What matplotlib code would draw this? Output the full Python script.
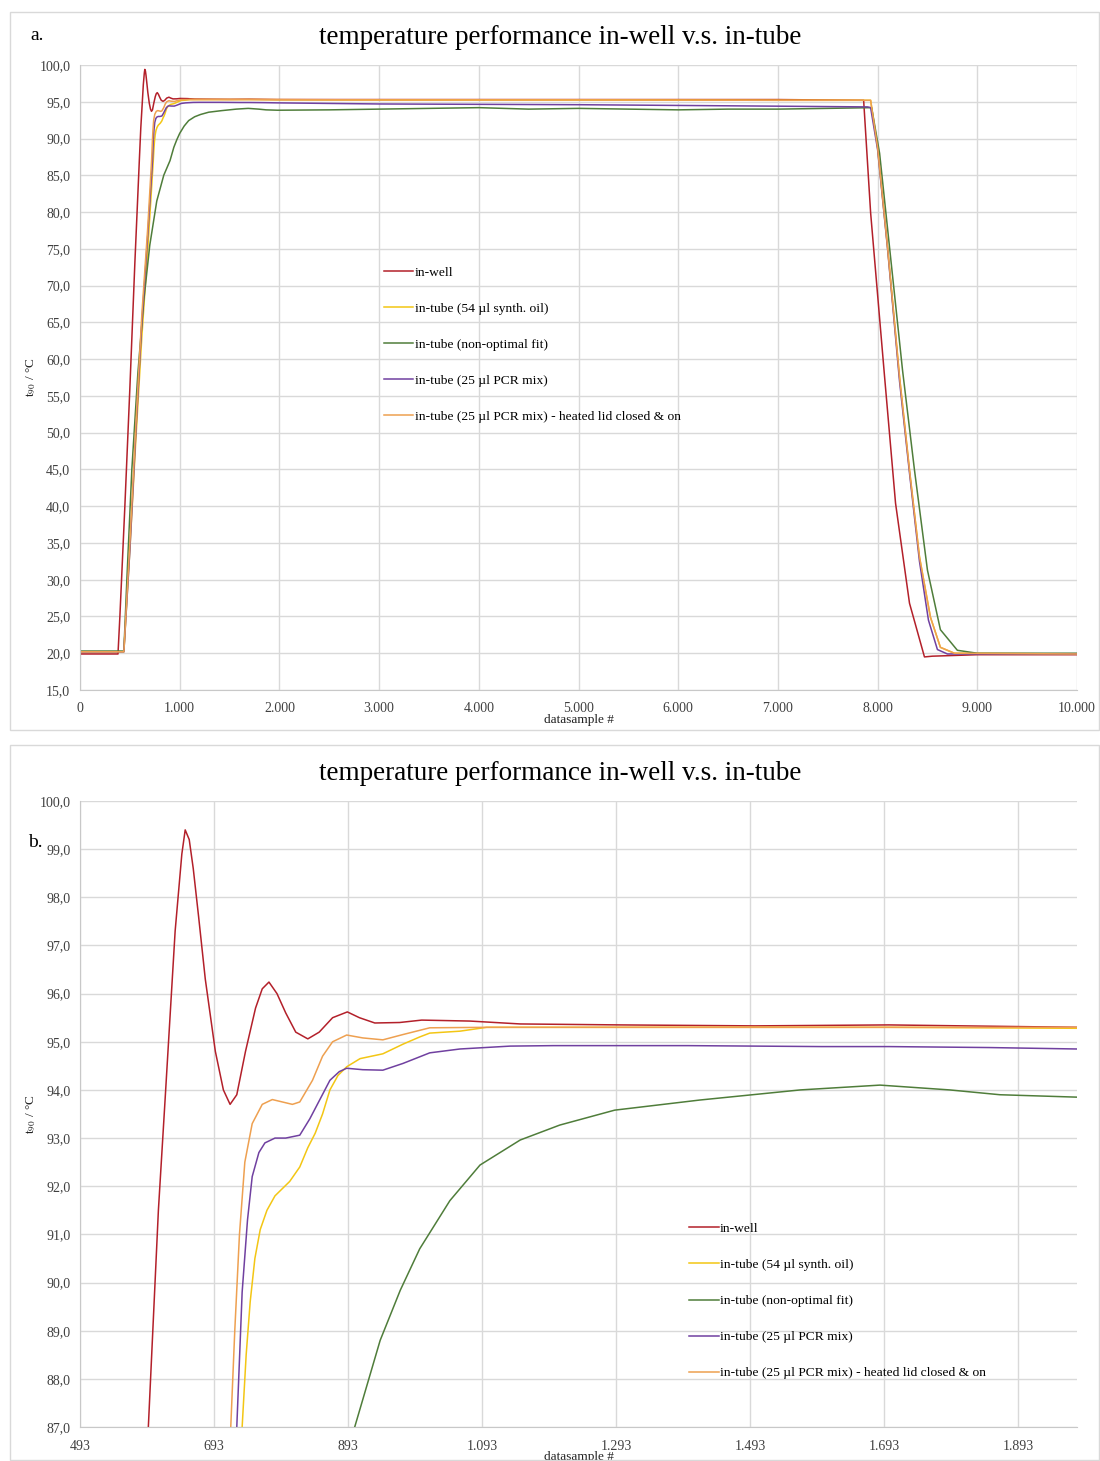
"""Temperature performance in-well vs in-tube, two panels (overview + zoom)."""

import numpy as np
import matplotlib
import matplotlib.pyplot as plt
from matplotlib.patches import Rectangle
from matplotlib.ticker import FuncFormatter, FixedLocator

matplotlib.use("Agg")

plt.rcParams["font.family"] = ["Liberation Serif", "DejaVu Serif"]
plt.rcParams["mathtext.fontset"] = "stix"

# ---- data (sample #, temperature in degC) ----
well_x = [0, 381, 400, 450, 500, 550, 595, 610, 620, 635, 645, 650, 656, 662,
          670, 680, 695, 707, 717, 727, 740, 755, 765, 775, 787, 800, 815,
          833, 850, 870, 892, 910, 933, 970, 1003, 1075, 1150, 1300, 1500,
          1700, 1981, 3000, 5000, 7000, 7860, 7930, 8070, 8180, 8320, 8470,
          8550, 9000, 10000]
well_y = [19.9, 19.9, 25.0, 40.0, 56.0, 73.0, 87.0, 91.5, 93.8, 97.3, 98.9,
          99.4, 99.2, 98.6, 97.6, 96.3, 94.8, 94.0, 93.7, 93.9, 94.8, 95.7,
          96.1, 96.24, 96.0, 95.6, 95.2, 95.06, 95.2, 95.5, 95.62, 95.5, 95.39,
          95.4, 95.45, 95.43, 95.37, 95.35, 95.33, 95.35, 95.3, 95.3, 95.3,
          95.3, 95.2, 79.9, 57.6, 40.4, 26.8, 19.5, 19.6, 19.8, 19.8]

oil_x = [0, 440, 500, 560, 620, 680, 735, 741, 747, 754, 762, 772, 784, 806,
         821, 833, 844, 855, 866, 878, 891, 911, 945, 975, 1000, 1015, 1060,
         1100, 1300, 1500, 1700, 1981, 3000, 5000, 7000, 7930, 8000, 8100,
         8220, 8320, 8420, 8530, 8630, 8770, 10000]
oil_y = [20.2, 20.2, 34.0, 49.0, 63.0, 75.0, 87.0, 88.5, 89.6, 90.5, 91.1,
         91.5, 91.8, 92.1, 92.4, 92.8, 93.1, 93.5, 94.0, 94.3, 94.48, 94.65,
         94.75, 94.95, 95.1, 95.18, 95.22, 95.3, 95.3, 95.3, 95.3, 95.28,
         95.25, 95.25, 95.2, 95.2, 88.8, 75.2, 57.6, 44.9, 33.1, 24.9, 20.8,
         20.0, 19.9]

fit_x = [0, 440, 470, 520, 580, 640, 700, 770, 840, 903, 941, 971, 1000, 1045,
         1090, 1150, 1209, 1291, 1418, 1568, 1687, 1791, 1866, 1981, 2500,
         3000, 3500, 4000, 4500, 5000, 5500, 6000, 6500, 7000, 7500, 7940,
         8020, 8250, 8370, 8500, 8630, 8800, 9000, 10000]
fit_y = [20.3, 20.3, 30.0, 45.0, 58.0, 68.0, 75.5, 81.5, 85.0, 87.0, 88.8,
         89.84, 90.7, 91.7, 92.44, 92.96, 93.27, 93.58, 93.79, 94.0, 94.1,
         94.0, 93.9, 93.85, 93.9, 94.0, 94.1, 94.2, 94.0, 94.1, 94.0, 93.9,
         94.0, 94.0, 94.1, 94.2, 88.0, 58.5, 44.9, 31.3, 23.2, 20.4, 20.0,
         20.0]

pcr_x = [0, 440, 500, 560, 620, 680, 727, 735, 743, 750, 760, 769, 784, 800,
         821, 836, 851, 866, 880, 891, 915, 945, 975, 1015, 1060, 1135, 1200,
         1400, 1600, 1700, 1850, 1981, 3000, 5000, 7000, 7900, 7930, 8000,
         8100, 8220, 8320, 8420, 8510, 8600, 8700, 10000]
pcr_y = [20.2, 20.2, 34.0, 50.0, 65.0, 77.0, 87.0, 89.8, 91.3, 92.2, 92.7,
         92.9, 93.0, 93.0, 93.06, 93.4, 93.8, 94.2, 94.38, 94.45, 94.42,
         94.41, 94.55, 94.77, 94.85, 94.91, 94.92, 94.92, 94.9, 94.9, 94.88,
         94.85, 94.7, 94.6, 94.4, 94.3, 94.2, 88.5, 75.0, 57.0, 44.5, 32.5,
         24.5, 20.5, 19.9, 19.9]

lid_x = [0, 440, 500, 560, 620, 680, 718, 724, 731, 739, 750, 765, 780, 795,
         810, 821, 840, 855, 870, 891, 915, 945, 975, 1015, 1100, 1300, 1500,
         1700, 1981, 3000, 5000, 7000, 7930, 8000, 8100, 8220, 8320, 8420,
         8530, 8630, 8770, 10000]
lid_y = [20.2, 20.2, 35.0, 51.0, 66.0, 78.0, 87.0, 89.0, 91.0, 92.5, 93.3,
         93.7, 93.8, 93.75, 93.7, 93.75, 94.2, 94.7, 95.0, 95.14, 95.08,
         95.04, 95.15, 95.29, 95.3, 95.3, 95.3, 95.3, 95.3, 95.25, 95.25,
         95.2, 95.2, 88.8, 75.2, 57.6, 44.9, 33.1, 24.9, 20.8, 20.0, 19.9]

labels = ["in-well", "in-tube (54 µl synth. oil)", "in-tube (non-optimal fit)",
          "in-tube (25 µl PCR mix)",
          "in-tube (25 µl PCR mix) - heated lid closed & on"]
colors = ["#b3202a", "#f3c614", "#4f7d3a", "#7040a0", "#eea050"]
series = [(well_x, well_y), (oil_x, oil_y), (fit_x, fit_y),
          (pcr_x, pcr_y), (lid_x, lid_y)]

title = "temperature performance in-well v.s. in-tube"

a_xticks = [0, 1000, 2000, 3000, 4000, 5000, 6000, 7000, 8000, 9000, 10000]
a_yticks = [15, 20, 25, 30, 35, 40, 45, 50, 55, 60, 65, 70, 75, 80, 85, 90, 95, 100]
b_xticks = [493, 693, 893, 1093, 1293, 1493, 1693, 1893]
b_yticks = [87, 88, 89, 90, 91, 92, 93, 94, 95, 96, 97, 98, 99, 100]


def fmt_x(v, _pos):
    return f"{int(round(v)):,}".replace(",", ".")


def fmt_y(v, _pos):
    return f"{v:.1f}".replace(".", ",")


W, H = 1100, 1461
fig = plt.figure(figsize=(W / 100, H / 100), dpi=100)

# panel frames
for (x0, y0, x1, y1) in [(10, 12, 1099, 730), (10, 745, 1099, 1460)]:
    fig.add_artist(Rectangle((x0 / W, 1 - y1 / H), (x1 - x0) / W, (y1 - y0) / H,
                             transform=fig.transFigure, fill=False,
                             edgecolor="#d9d9d9", linewidth=1.0))


def setup(ax, xlim, ylim, xticks, yticks):
    for (x, y), c, lab in zip(series, colors, labels):
        ax.plot(x, y, color=c, linewidth=1.1, label=lab)
    ax.set_xlim(*xlim)
    ax.set_ylim(*ylim)
    ax.xaxis.set_major_locator(FixedLocator(xticks))
    ax.yaxis.set_major_locator(FixedLocator(yticks))
    ax.xaxis.set_major_formatter(FuncFormatter(fmt_x))
    ax.yaxis.set_major_formatter(FuncFormatter(fmt_y))
    ax.grid(True, color="#d9d9d9", linewidth=1.0)
    ax.set_axisbelow(True)
    for s in ["top", "right"]:
        ax.spines[s].set_visible(False)
    for s in ["left", "bottom"]:
        ax.spines[s].set_color("#c8c8c8")
    ax.tick_params(length=0, labelsize=10, colors="#404040")
    ax.tick_params(axis="x", pad=9)
    ax.tick_params(axis="y", pad=7)
    ax.set_xlabel("datasample #", fontsize=9.5, labelpad=-1, color="#202020")
    ax.set_ylabel(r"t$_{90}$ / °C", fontsize=9.5, color="#202020", labelpad=1)


# panel a
ax_a = fig.add_axes([80 / W, 1 - 690 / H, 997 / W, 625 / H])
setup(ax_a, (0, 10000), (15, 100), a_xticks, a_yticks)
ax_a.legend(loc="upper left", bbox_to_anchor=(0.298, 0.688), frameon=False,
            fontsize=9.7, handlelength=2.2, handletextpad=0.1,
            labelspacing=1.75, borderpad=0)
fig.text(560 / W, 1 - 38 / H, title, ha="center", va="center", fontsize=19.5)
fig.text(30 / W, 1 - 35 / H, "a.", ha="left", va="center", fontsize=14)

# panel b
ax_b = fig.add_axes([80 / W, 1 - 1427 / H, 997 / W, 626 / H])
setup(ax_b, (493, 1981), (87, 100), b_xticks, b_yticks)
ax_b.legend(loc="upper left", bbox_to_anchor=(0.604, 0.337), frameon=False,
            fontsize=9.7, handlelength=2.2, handletextpad=0.1,
            labelspacing=1.75, borderpad=0)
fig.text(560 / W, 1 - 774 / H, title, ha="center", va="center", fontsize=19.5)
fig.text(28 / W, 1 - 843 / H, "b.", ha="left", va="center", fontsize=14)

fig.savefig("out.png", dpi=100, facecolor="white")
